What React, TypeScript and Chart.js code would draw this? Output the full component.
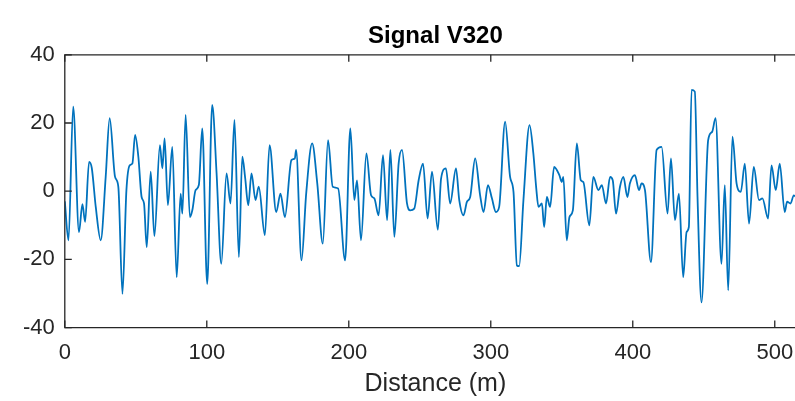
import React, { useEffect, useRef } from "react";
import { Chart, registerables } from "chart.js";

Chart.register(...registerables);

const distance = [
  0, 2.6, 5.9, 10, 12.4, 14.3, 17.1, 19, 21.8, 25.3, 28.8, 31.6, 35.4, 37.7, 40.6, 43.4, 45.7, 47.6, 49.5, 51.8,
  54.1, 55.8, 57.7, 60.5, 63.1, 67, 68.7, 70.3, 72.6, 75.7, 78.8, 81.6, 82.8, 85.1, 88.1, 89.8, 92.1, 94.4, 96.8,
  100.3, 103.8, 106.9, 110.2, 113.9, 116.7, 119.5, 122.6, 125, 127, 129.2, 131.5, 134.3, 136.6, 140.9, 144.2,
  148.9, 151.9, 155, 159.6, 162, 162.9, 166.7, 170, 174.2, 177.8, 181.7, 185.4, 188.7, 192.5, 197.4, 201.1,
  203.9, 205.8, 208.6, 212.4, 215.7, 218, 221, 224.1, 227, 229.3, 232.1, 235.1, 237.5, 241, 243.3, 246.1, 249.2,
  252.3, 255.5, 258.6, 262.7, 265, 268.4, 271.4, 275.5, 277.8, 280.8, 283.2, 285.5, 289, 292.5, 294.9, 298,
  300.8, 303.6, 305.9, 310.1, 313.6, 316, 318.4, 320, 323, 327.3, 330, 332, 333.6, 336, 337.6, 339.5, 341.8,
  344.6, 348.3, 350, 351.1, 353.5, 355.4, 357.8, 360.6, 363.4, 365.2, 369.4, 372.2, 375.8, 378.2, 381.2, 384,
  385.9, 388.2, 391, 393.4, 396.2, 398, 401.5, 404.4, 406.2, 408.6, 412.8, 416.8, 420.3, 424.5, 426.9, 429.7,
  432.5, 435.5, 437.9, 439.5, 441.4, 443.7, 445.6, 448.4, 453.1, 455.9, 458.3, 462.5, 464.8, 467.2, 470.2,
  473.1, 476.1, 478.9, 481.9, 485.2, 488.9, 491.3, 495.3, 497.7, 500.7, 503.5, 507, 508.7, 511.1, 513.4, 516, 520,
];

const signal = [
  -3, -14.4, 24.8, -12, -3.8, -9, 8.6, 6.8, -4.6, -14.4, 4.2, 21.4, 4.2, 1.3, -30.1, 0.3, 7.6, 8.1, 16.5, 10.1,
  -1.7, -3.6, -16.4, 5.7, -13.2, 13.5, 6.7, 15.5, -4.1, 13, -25.2, -0.7, -6.6, 22.4, -7.6, -5.6, 0.3, 1.8, 18.4,
  -27.2, 25.3, 5.2, -21.3, 5.2, -3.6, 20.9, -19.3, 10.1, 4, -4.1, 5.2, -2.6, 1.3, -12.9, 13.5,
  -6.1, -0.7, -7.6, 9.1, 9.6, 12.1, -20.3, -0.7, 14, 2.3, -15.4, 15, 1.3, 0.8, -20.3, 18.4,
  -2.6, 3.2, -14.4, 11.1, -1.2, -2.1, -7.1, 10.6, -8.5, 12.1, -13.4, 8.1, 12.1, -3.6, -5.6, -5.1, 3.2,
  8.1, -8, 5.7, -11.3, 3.7, 6.7, -3.6, 6.7, -2.6, -7.1, -3.1, -1.7, 9.6, -1.2, -6.1, 1.8,
  -2.1, -6.1, -4.6, 20.4, 4.2, -0.2, -21.8, -22, -2.6, 19.4, 11, 1, -4.6, -3.6, -10.5, -1.7, -4.6,
  7.1, 4.7, 2.7, 4.2, -14.4, -7.6, -5.6, 14, 3.2, 2.7, -10, 4.2, 0.3, 1.8, -3.6, 4.2,
  3.2, -6.6, 1.3, 4.2, -1.7, 2.3, 4.7, 0.3, 2.3, 0.3, -20.8, 12.1, 13, -6.6, 9.6, -8.5,
  -0.7, -25.2, -12, -10.5, 29.7, 29.2, -1.7, -32.6, 15, 17.4, 21.4, -21.3, 1.8, -29.1, 16,
  2.3, -0.2, 8.1, -9.5, 7.1, -2.6, -2.1, -8, 7.6, 0.3, 8.1, -6.1, -3.1, -3.6, -1.2, -2, -1,
];

const xTicks = [0, 100, 200, 300, 400, 500];
const yTicks = [-40, -20, 0, 20, 40];
const xMin = 0;
const xMax = 522;
const yMin = -40;
const yMax = 40;

const FONT = "'Liberation Sans', Arial, Helvetica, sans-serif";
const AXIS_COLOR = "#262626";

const boxPlugin = {
  id: "matlabBox",
  afterDatasetsDraw(chart: any) {
    const { ctx, chartArea: a, scales } = chart;
    const x = scales.x;
    const y = scales.y;
    const tl = 7;
    ctx.save();
    ctx.strokeStyle = AXIS_COLOR;
    ctx.lineWidth = 1.3;
    ctx.beginPath();
    ctx.rect(a.left, a.top, a.right - a.left, a.bottom - a.top);
    ctx.stroke();
    ctx.beginPath();
    for (const v of xTicks) {
      const px = x.getPixelForValue(v);
      ctx.moveTo(px, a.bottom);
      ctx.lineTo(px, a.bottom - tl);
      ctx.moveTo(px, a.top);
      ctx.lineTo(px, a.top + tl);
    }
    for (const v of yTicks) {
      const py = y.getPixelForValue(v);
      ctx.moveTo(a.left, py);
      ctx.lineTo(a.left + tl, py);
      ctx.moveTo(a.right, py);
      ctx.lineTo(a.right - tl, py);
    }
    ctx.stroke();
    ctx.restore();
  },
};

export default function App() {
  const ref = useRef<HTMLCanvasElement | null>(null);

  useEffect(() => {
    document.body.style.margin = "0";
    const canvas = ref.current;
    if (!canvas) return;
    const data = distance.map((d, i) => ({ x: d, y: signal[i] }));
    const chart = new Chart(canvas, {
      type: "line",
      data: {
        datasets: [
          {
            data,
            borderColor: "#0072BD",
            borderWidth: 1.8,
            pointRadius: 0,
            fill: false,
            cubicInterpolationMode: "monotone",
          },
        ],
      },
      options: {
        animation: false,
        responsive: false,
        devicePixelRatio: 1,
        layout: { padding: { left: 13, right: 6, top: 0, bottom: 0 } },
        plugins: {
          legend: { display: false },
          tooltip: { enabled: false },
          title: {
            display: true,
            text: "Signal V320",
            fullSize: false,
            color: "#000000",
            font: { family: FONT, size: 24, weight: "bold" },
            padding: { top: 22, bottom: 4 },
          },
        },
        scales: {
          x: {
            type: "linear",
            min: xMin,
            max: xMax,
            afterBuildTicks: (s: any) => {
              s.ticks = xTicks.map((v) => ({ value: v }));
            },
            grid: { display: false, drawTicks: false },
            border: { display: false },
            ticks: {
              color: AXIS_COLOR,
              font: { family: FONT, size: 22 },
              padding: 12,
              maxRotation: 0,
              autoSkip: false,
            },
            title: {
              display: true,
              text: "Distance (m)",
              color: AXIS_COLOR,
              font: { family: FONT, size: 25 },
              padding: { top: -9, bottom: 2 },
            },
          },
          y: {
            type: "linear",
            min: yMin,
            max: yMax,
            afterBuildTicks: (s: any) => {
              s.ticks = yTicks.map((v) => ({ value: v }));
            },
            grid: { display: false, drawTicks: false },
            border: { display: false },
            ticks: {
              color: AXIS_COLOR,
              font: { family: FONT, size: 22 },
              padding: 10,
              autoSkip: false,
            },
          },
        },
      },
      plugins: [boxPlugin],
    } as any);
    return () => chart.destroy();
  }, []);

  return (
    <div style={{ position: "absolute", left: 0, top: 0, width: 795, height: 401, overflow: "hidden", background: "#fff" }}>
      <canvas ref={ref} width={812} height={401} style={{ display: "block", width: 812, height: 401 }} />
    </div>
  );
}
